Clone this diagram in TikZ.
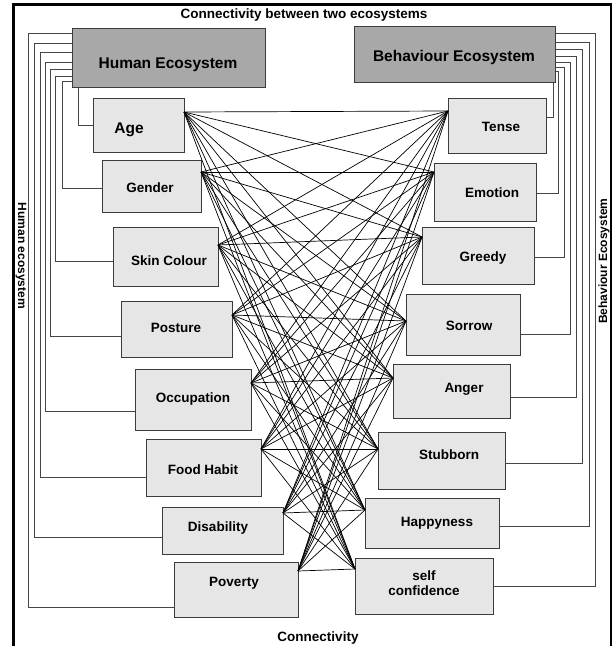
\documentclass[tikz,border=0pt]{standalone}
\usepackage{fontspec}
\setmainfont{Liberation Sans}
\usetikzlibrary{fit}
\definecolor{boxfill}{RGB}{230,230,230}
\definecolor{ecofill}{RGB}{168,168,168}
\definecolor{boxline}{RGB}{60,60,60}
\definecolor{brkline}{RGB}{70,70,70}
\begin{document}
\begin{tikzpicture}[x=1pt,y=-1pt,
  lbox/.style={draw=boxline, fill=boxfill, line width=1pt, inner sep=0pt},
  ebox/.style={draw=boxline, fill=ecofill, line width=1pt, inner sep=0pt},
  lbl/.style={font=\bfseries\fontsize{13.5}{15}\selectfont, inner sep=0pt, align=center},
  biglbl/.style={font=\bfseries\fontsize{15.5}{17}\selectfont, inner sep=0pt},
  sidelbl/.style={font=\bfseries\fontsize{12}{14}\selectfont, inner sep=0pt},
  brk/.style={draw=brkline, line width=1pt},
  web/.style={draw=black, line width=0.7pt}]
\useasboundingbox (0,0) rectangle (612,646);
% frame
\draw[line width=3pt] (13.5,646) -- (13.5,4.5) -- (612,4.5);
\draw[line width=2pt] (610.5,4.5) -- (610.5,646);
% titles
\node[lbl] (title) at (304,15) {Connectivity between two ecosystems};
\node[lbl] (bottomt) at (318,638) {Connectivity};
\node[sidelbl, rotate=-90] (hside) at (21,256) {Human ecosystem};
\node[sidelbl, rotate=90] (bside) at (604,261) {Behaviour Ecosystem};
% ecosystem boxes
\node[ebox, fit={(72,28) (265,87)}] (he) {};
\node[biglbl] (heT) at (168,65) {Human Ecosystem};
\node[ebox, fit={(354,26) (555,82)}] (be) {};
\node[biglbl] (beT) at (454,57) {Behaviour Ecosystem};
% left boxes
\node[lbox, fit={(93,98) (184,152)}] (age) {};
\node[biglbl] (ageT) at (129,130) {Age};
\node[lbox, fit={(102,160) (201,212)}] (gender) {};
\node[lbl] (genderT) at (150,188) {Gender};
\node[lbox, fit={(113,227) (218,286)}] (skin) {};
\node[lbl] (skinT) at (169,261) {Skin Colour};
\node[lbox, fit={(121,301) (232,357)}] (posture) {};
\node[lbl] (postureT) at (176,328) {Posture};
\node[lbox, fit={(135,369) (251,430)}] (occ) {};
\node[lbl] (occT) at (193,399) {Occupation};
\node[lbox, fit={(146,439) (261,496)}] (food) {};
\node[lbl] (foodT) at (203,470) {Food Habit};
\node[lbox, fit={(162,507) (283,554)}] (dis) {};
\node[lbl] (disT) at (218,528) {Disability};
\node[lbox, fit={(174,562) (298,617)}] (pov) {};
\node[lbl] (povT) at (234,583) {Poverty};
% right boxes
\node[lbox, fit={(448,98) (546,153)}] (tense) {};
\node[lbl] (tenseT) at (501,127) {Tense};
\node[lbox, fit={(434,163) (536,221)}] (emo) {};
\node[lbl] (emoT) at (492,193) {Emotion};
\node[lbox, fit={(422,227) (534,284)}] (greedy) {};
\node[lbl] (greedyT) at (483,258) {Greedy};
\node[lbox, fit={(406,294) (520,355)}] (sorrow) {};
\node[lbl] (sorrowT) at (469,326) {Sorrow};
\node[lbox, fit={(393,364) (510,418)}] (anger) {};
\node[lbl] (angerT) at (464,389) {Anger};
\node[lbox, fit={(378,432) (505,489)}] (stub) {};
\node[lbl] (stubT) at (449,455) {Stubborn};
\node[lbox, fit={(365,498) (499,548)}] (happy) {};
\node[lbl] (happyT) at (437,523) {Happyness};
\node[lbox, fit={(355,558) (493,614)}] (self) {};
\node[lbl] (selfT) at (424,583) {self\\confidence};
% hubs
\coordinate (hAge) at (184,112);
\coordinate (hGender) at (201,172);
\coordinate (hSkin) at (218,245);
\coordinate (hPosture) at (232,315);
\coordinate (hOcc) at (251,383);
\coordinate (hFood) at (261,449);
\coordinate (hDis) at (283,513);
\coordinate (hPov) at (298,571);
\coordinate (hTense) at (448,111);
\coordinate (hEmo) at (434,172);
\coordinate (hGreedy) at (422,237);
\coordinate (hSorrow) at (406,321);
\coordinate (hAnger) at (393,378);
\coordinate (hStub) at (378,449);
\coordinate (hHappy) at (365,510);
\coordinate (hSelf) at (355,569);
\foreach \l in {hAge,hGender,hSkin,hPosture,hOcc,hFood,hDis,hPov}
  \foreach \r in {hTense,hEmo,hGreedy,hSorrow,hAnger,hStub,hHappy,hSelf}
    \draw[web] (\l) -- (\r);
% left brackets
\draw[brk] (he.south west -| 78,0) -- (78,125) -- (age.west |- 0,125);
\foreach \x/\ya/\yb/\n in {62/81/188/gender,55/76/261/skin,50/69/336/posture,45/62/411/occ,40/52/477/food,34/43/537/dis,28/33/607/pov}
  \draw[brk] (he.west |- 0,\ya) -- (\x,\ya) -- (\x,\yb) -- (\n.west |- 0,\yb);
% right brackets
\draw[brk] (be.south east -| 553,0) -- (553,117) -- (tense.east |- 0,117);
\foreach \x/\ya/\yb/\n in {558/71/193/emo,564/67/257/greedy,570/62/334/sorrow,576/56/397/anger,582/49/463/stub,589/42/526/happy,595/33/586/self}
  \draw[brk] (be.east |- 0,\ya) -- (\x,\ya) -- (\x,\yb) -- (\n.east |- 0,\yb);
\end{tikzpicture}
\end{document}
